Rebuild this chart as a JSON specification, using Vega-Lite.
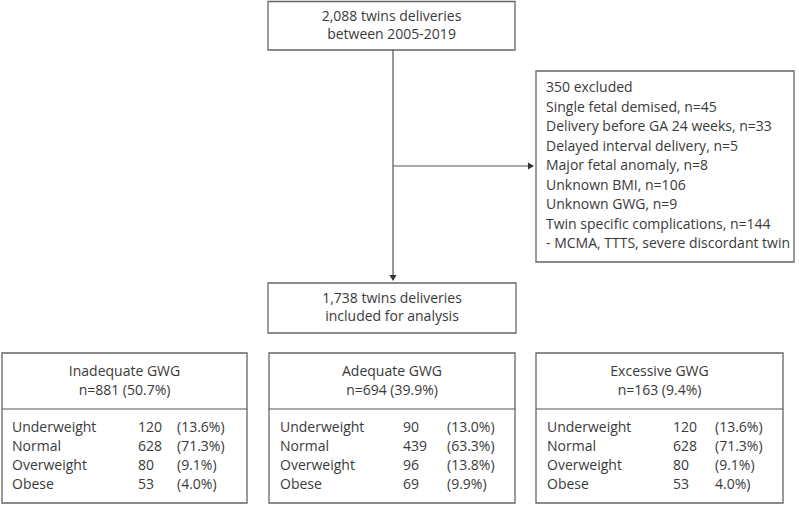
{
  "$schema": "https://vega.github.io/schema/vega-lite/v6.json",
  "width": 799,
  "height": 505,
  "autosize": {"type": "fit", "contains": "padding"},
  "padding": 0,
  "background": "white",
  "config": {"view": {"stroke": null}},
  "datasets": {
    "boxes": [
      {"id": "top", "x": 268, "x2": 515, "y": 1.5, "y2": 50},
      {"id": "excluded", "x": 536, "x2": 794, "y": 71, "y2": 262},
      {"id": "included", "x": 268, "x2": 516, "y": 283, "y2": 333},
      {"id": "inadequate", "x": 2, "x2": 247, "y": 353, "y2": 503},
      {"id": "adequate", "x": 269, "x2": 515, "y": 353, "y2": 503},
      {"id": "excessive", "x": 536, "x2": 783, "y": 353, "y2": 503}
    ],
    "lines": [
      {"id": "down", "x": 393, "x2": 393, "y": 50, "y2": 277},
      {"id": "right", "x": 393, "x2": 530, "y": 166, "y2": 166},
      {"id": "sep1", "x": 2, "x2": 247, "y": 409, "y2": 409},
      {"id": "sep2", "x": 269, "x2": 515, "y": 409, "y2": 409},
      {"id": "sep3", "x": 536, "x2": 783, "y": 409, "y2": 409}
    ],
    "heads_down": [{"x": 393, "y": 278}],
    "heads_right": [{"x": 531, "y": 166}],
    "centered": [
      {"x": 391.5, "y": 17, "t": "2,088 twins deliveries"},
      {"x": 391.5, "y": 35, "t": "between 2005-2019"},
      {"x": 392, "y": 299, "t": "1,738 twins deliveries"},
      {"x": 392, "y": 317, "t": "included for analysis"},
      {"x": 124.5, "y": 372, "t": "Inadequate GWG"},
      {"x": 124.5, "y": 391, "t": "n=881 (50.7%)"},
      {"x": 392, "y": 372, "t": "Adequate GWG"},
      {"x": 392, "y": 391, "t": "n=694 (39.9%)"},
      {"x": 659.5, "y": 372, "t": "Excessive GWG"},
      {"x": 659.5, "y": 391, "t": "n=163 (9.4%)"}
    ],
    "left": [
      {"x": 546, "y": 88, "t": "350 excluded"},
      {"x": 546, "y": 107.5, "t": "Single fetal demised, n=45"},
      {"x": 546, "y": 127, "t": "Delivery before GA 24 weeks, n=33"},
      {"x": 546, "y": 146.5, "t": "Delayed interval delivery, n=5"},
      {"x": 546, "y": 166, "t": "Major fetal anomaly, n=8"},
      {"x": 546, "y": 185.5, "t": "Unknown BMI, n=106"},
      {"x": 546, "y": 205, "t": "Unknown GWG, n=9"},
      {"x": 546, "y": 224.5, "t": "Twin specific complications, n=144"},
      {"x": 546, "y": 244, "t": "- MCMA, TTTS, severe discordant twin"},
      {"x": 12, "y": 428, "t": "Underweight"},
      {"x": 138, "y": 428, "t": "120"},
      {"x": 177, "y": 428, "t": "(13.6%)"},
      {"x": 12, "y": 447, "t": "Normal"},
      {"x": 138, "y": 447, "t": "628"},
      {"x": 177, "y": 447, "t": "(71.3%)"},
      {"x": 12, "y": 466, "t": "Overweight"},
      {"x": 138, "y": 466, "t": "80"},
      {"x": 177, "y": 466, "t": "(9.1%)"},
      {"x": 12, "y": 485, "t": "Obese"},
      {"x": 138, "y": 485, "t": "53"},
      {"x": 177, "y": 485, "t": "(4.0%)"},
      {"x": 280, "y": 428, "t": "Underweight"},
      {"x": 403, "y": 428, "t": "90"},
      {"x": 447, "y": 428, "t": "(13.0%)"},
      {"x": 280, "y": 447, "t": "Normal"},
      {"x": 403, "y": 447, "t": "439"},
      {"x": 447, "y": 447, "t": "(63.3%)"},
      {"x": 280, "y": 466, "t": "Overweight"},
      {"x": 403, "y": 466, "t": "96"},
      {"x": 447, "y": 466, "t": "(13.8%)"},
      {"x": 280, "y": 485, "t": "Obese"},
      {"x": 403, "y": 485, "t": "69"},
      {"x": 447, "y": 485, "t": "(9.9%)"},
      {"x": 547, "y": 428, "t": "Underweight"},
      {"x": 673, "y": 428, "t": "120"},
      {"x": 715, "y": 428, "t": "(13.6%)"},
      {"x": 547, "y": 447, "t": "Normal"},
      {"x": 673, "y": 447, "t": "628"},
      {"x": 715, "y": 447, "t": "(71.3%)"},
      {"x": 547, "y": 466, "t": "Overweight"},
      {"x": 673, "y": 466, "t": "80"},
      {"x": 715, "y": 466, "t": "(9.1%)"},
      {"x": 547, "y": 485, "t": "Obese"},
      {"x": 673, "y": 485, "t": "53"},
      {"x": 715, "y": 485, "t": "4.0%)"}
    ]
  },
  "layer": [
    {
      "data": {"name": "boxes"},
      "mark": {"type": "rect", "fill": "white", "stroke": "#666666", "strokeWidth": 1.3},
      "encoding": {
        "x": {"field": "x", "type": "quantitative", "scale": {"domain": [0, 799], "nice": false, "zero": false}, "axis": null},
        "x2": {"field": "x2"},
        "y": {"field": "y", "type": "quantitative", "scale": {"domain": [0, 505], "nice": false, "zero": false, "reverse": true}, "axis": null},
        "y2": {"field": "y2"}
      }
    },
    {
      "data": {"name": "lines"},
      "mark": {"type": "rule", "stroke": "#555555", "strokeWidth": 1.2},
      "encoding": {
        "x": {"field": "x", "type": "quantitative"},
        "x2": {"field": "x2"},
        "y": {"field": "y", "type": "quantitative"},
        "y2": {"field": "y2"}
      }
    },
    {
      "data": {"name": "heads_down"},
      "mark": {"type": "point", "shape": "triangle-down", "filled": true, "color": "#333333", "size": 50, "opacity": 1},
      "encoding": {
        "x": {"field": "x", "type": "quantitative"},
        "y": {"field": "y", "type": "quantitative"}
      }
    },
    {
      "data": {"name": "heads_right"},
      "mark": {"type": "point", "shape": "triangle-right", "filled": true, "color": "#333333", "size": 50, "opacity": 1},
      "encoding": {
        "x": {"field": "x", "type": "quantitative"},
        "y": {"field": "y", "type": "quantitative"}
      }
    },
    {
      "data": {"name": "centered"},
      "mark": {"type": "text", "align": "center", "baseline": "middle", "font": "Open Sans", "fontSize": 14, "color": "#3a3a3a"},
      "encoding": {
        "x": {"field": "x", "type": "quantitative"},
        "y": {"field": "y", "type": "quantitative"},
        "text": {"field": "t"}
      }
    },
    {
      "data": {"name": "left"},
      "mark": {"type": "text", "align": "left", "baseline": "middle", "font": "Open Sans", "fontSize": 14, "color": "#3a3a3a"},
      "encoding": {
        "x": {"field": "x", "type": "quantitative"},
        "y": {"field": "y", "type": "quantitative"},
        "text": {"field": "t"}
      }
    }
  ]
}
